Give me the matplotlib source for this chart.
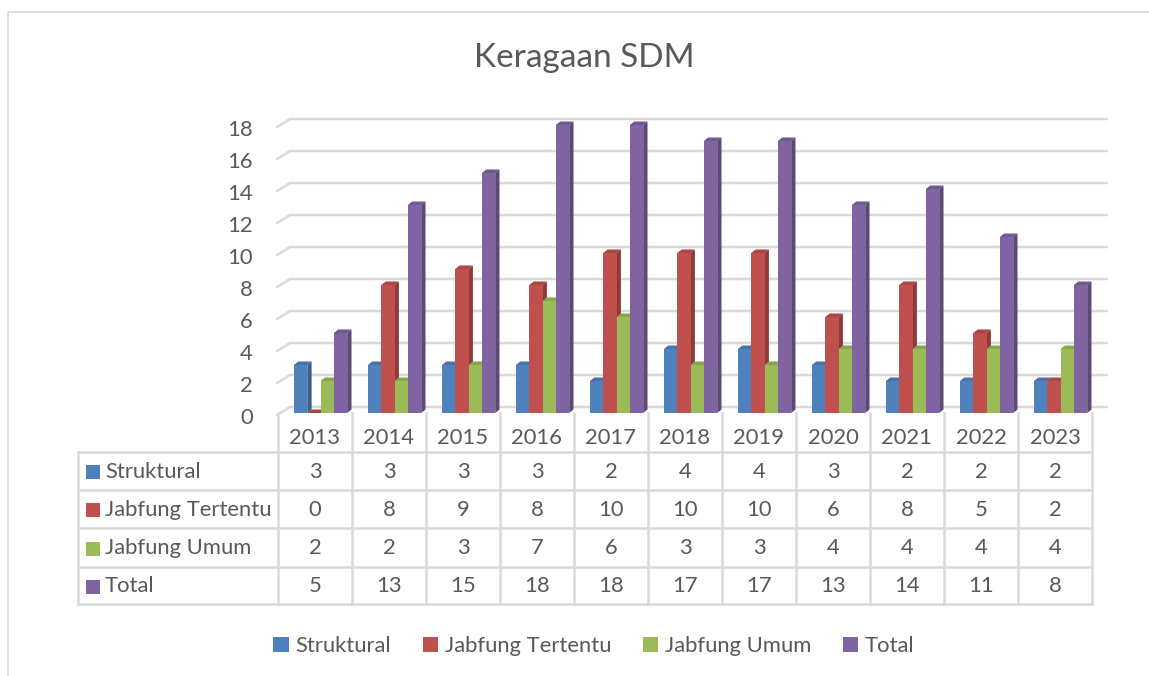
import matplotlib
matplotlib.use("Agg")
import matplotlib.pyplot as plt
import matplotlib.transforms as mtransforms
from matplotlib.patches import Polygon, Patch, Rectangle
import numpy as np

plt.rcParams['font.family'] = ['Lato', 'DejaVu Sans']

years = ['2013', '2014', '2015', '2016', '2017', '2018', '2019', '2020', '2021', '2022', '2023']
struktural = [3, 3, 3, 3, 2, 4, 4, 3, 2, 2, 2]
jabfung_tertentu = [0, 8, 9, 8, 10, 10, 10, 6, 8, 5, 2]
jabfung_umum = [2, 2, 3, 7, 6, 3, 3, 4, 4, 4, 4]
total = [5, 13, 15, 18, 18, 17, 17, 13, 14, 11, 8]

series_names = ['Struktural', 'Jabfung Tertentu', 'Jabfung Umum', 'Total']
series_vals = [struktural, jabfung_tertentu, jabfung_umum, total]
front_cols = ['#4F81BD', '#C0504D', '#9BBB59', '#8064A2']
side_cols = ['#3A5F8C', '#8E3A38', '#728A41', '#5D4977']
top_cols = ['#4672A8', '#A94543', '#88A54E', '#715890']

TXT = '#595959'
GRID = '#D9D9D9'
FS = 15.8
W, H = 1149, 676

# layout in pixels
X0, CW = 278, 74          # table / category columns
LBL_X = 78                # left edge of the row label column
Y_FLOOR, PX_UNIT = 413, 16
ROWS = [415, 452, 490, 528, 567, 604]

fig = plt.figure(figsize=(W / 100, H / 100), dpi=100)
bg = fig.add_axes([0, 0, 1, 1])
bg.set_xlim(0, W); bg.set_ylim(H, 0); bg.axis('off')

# outer chart frame (only left and top edges are inside the image)
bg.plot([8, 8, W], [H, 12, 12], color=GRID, lw=1.2)

bg.text(584, 58, 'Keragaan SDM', ha='center', va='center', fontsize=24, color=TXT)

# bar axes: x in category units, y in data units
n = len(years)
ax_right = X0 + n * CW
ax = fig.add_axes([X0 / W, (H - Y_FLOOR) / H, (ax_right - X0) / W, (Y_FLOOR - 100) / H])
ax.set_xlim(-0.5, n - 0.5)
ax.set_ylim(0, (Y_FLOOR - 100) / PX_UNIT)
ax.patch.set_visible(False)
for s in ax.spines.values():
    s.set_visible(False)
ax.set_xticks([])
ax.set_yticks(range(0, 19, 2))
ax.tick_params(axis='y', length=0, pad=18, labelsize=FS, labelcolor=TXT)
shift = mtransforms.ScaledTranslation(0, -3 / 100, fig.dpi_scale_trans)
for lab in ax.get_yticklabels():
    lab.set_transform(lab.get_transform() + shift)

# back wall gridlines with the little 3D slant at the left
gx = [-0.514, -0.338, -0.5 + 829 / CW]
for v in range(0, 19, 2):
    ax.plot(gx, [v - 0.125, v + 0.375, v + 0.375], color=GRID, lw=1.8,
            solid_capstyle='round', clip_on=False, zorder=1)

# bars
bw = 13.3 / CW
off0 = -0.5 + 16 / CW
ddx, ddy = 4.3 / CW, 3.5 / PX_UNIT
x = np.arange(n)
for i in range(n):
    for k in range(4):
        v = series_vals[k][i]
        left = x[i] + off0 + k * bw
        right = left + bw
        z = 3 + i * 4 + k
        ax.add_patch(Polygon([(left, v), (left + ddx, v + ddy), (right + ddx, v + ddy), (right, v)],
                             closed=True, fc=top_cols[k], ec='none', zorder=z, clip_on=False))
        ax.add_patch(Polygon([(right, 0), (right + ddx, ddy), (right + ddx, v + ddy), (right, v)],
                             closed=True, fc=side_cols[k], ec='none', zorder=z, clip_on=False))
        ax.bar(left, v, width=bw, align='edge', color=front_cols[k], zorder=z + 0.5)

# data table
for r in ROWS[1:]:
    bg.plot([LBL_X, ax_right], [r, r], color=GRID, lw=1.8, solid_capstyle='butt')
bg.plot([LBL_X, LBL_X], [ROWS[1], ROWS[-1]], color=GRID, lw=1.8)
for j in range(n + 1):
    bg.plot([X0 + j * CW] * 2, [ROWS[0] - 2, ROWS[-1]], color=GRID, lw=1.8)

for j, yr in enumerate(years):
    bg.text(X0 + (j + 0.5) * CW, (ROWS[0] + ROWS[1]) / 2 + 4, yr,
            ha='center', va='center', fontsize=FS, color=TXT)

for k, name in enumerate(series_names):
    yc = (ROWS[k + 1] + ROWS[k + 2]) / 2 + 1
    bg.add_patch(Rectangle((86, yc - 7), 14, 14, fc=front_cols[k], ec='none'))
    bg.text(105, yc, name, ha='left', va='center', fontsize=FS, color=TXT)
    for j in range(n):
        bg.text(X0 + (j + 0.5) * CW, yc, str(series_vals[k][j]),
                ha='center', va='center', fontsize=FS, color=TXT)

# legend
handles = [Patch(fc=c, ec='none') for c in front_cols]
fig.legend(handles, series_names, loc='center', bbox_to_anchor=(594 / W, (H - 646) / H),
           ncol=4, frameon=False, fontsize=FS, labelcolor=TXT,
           handlelength=0.7, handleheight=0.7, handletextpad=0.3, columnspacing=1.45)

fig.savefig('out.png', dpi=100)
